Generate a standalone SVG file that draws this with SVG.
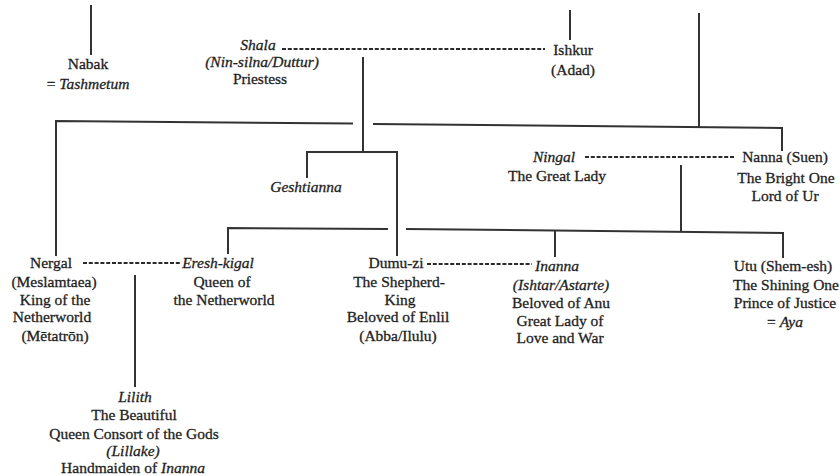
<svg xmlns="http://www.w3.org/2000/svg" width="840" height="476" viewBox="0 0 840 476">
<style>
  text { font-family: "Liberation Serif", "Times New Roman", serif; font-size: 15.5px; fill: #1e1e1e; stroke: #1e1e1e; stroke-width: 0.3; text-anchor: middle; }
  .i { font-style: italic; }
  .ln { fill: none; stroke: #333; stroke-width: 2; stroke-linecap: butt; }
  .ds { fill: none; stroke: #2a2a2a; stroke-width: 2.2; stroke-dasharray: 4 1.8; }
</style>
<rect x="0" y="0" width="840" height="476" fill="#ffffff"/>
<g id="connectors">
  <path class="ln" d="M91,5 L91,55"/>
  <path class="ln" d="M570,10 L570,40"/>
  <path class="ln" d="M699,13 L699,127"/>
  <path class="ds" d="M282,49 L545,49"/>
  <path class="ln" d="M363,57 L363,152"/>
  <path class="ln" d="M56,256 L56,121 L353,123.5"/>
  <path class="ln" d="M373,124 L782,128 L782,151"/>
  <path class="ln" d="M307,178 L307,152 L397,152 L397,256"/>
  <path class="ds" d="M585,157 L735,157"/>
  <path class="ln" d="M681,165 L681,232"/>
  <path class="ln" d="M228,254 L228,228 L388,229"/>
  <path class="ln" d="M406,229 L783,233 L783,258"/>
  <path class="ln" d="M555,230 L555,257"/>
  <path class="ds" d="M83,263 L180,263"/>
  <path class="ds" d="M427,264 L532,264"/>
  <path class="ln" d="M135,275 L135,387"/>
</g>
<g id="nabak">
  <text x="88" y="69">Nabak</text>
  <text x="88" y="89">= <tspan class="i">Tashmetum</tspan></text>
</g>
<g id="shala">
  <text x="258" y="50" class="i">Shala</text>
  <text x="262" y="67" class="i">(Nin-silna/Duttur)</text>
  <text x="260" y="84">Priestess</text>
</g>
<g id="ishkur">
  <text x="573" y="55">Ishkur</text>
  <text x="573" y="75">(Adad)</text>
</g>
<g id="geshtianna">
  <text x="306" y="192" class="i">Geshtianna</text>
</g>
<g id="ningal">
  <text x="554" y="162" class="i">Ningal</text>
  <text x="557" y="181">The Great Lady</text>
</g>
<g id="nanna">
  <text x="785" y="162">Nanna (Suen)</text>
  <text x="786" y="183">The Bright One</text>
  <text x="785" y="201">Lord of Ur</text>
</g>
<g id="nergal">
  <text x="51" y="268">Nergal</text>
  <text x="54" y="287">(Meslamtaea)</text>
  <text x="55" y="305">King of the</text>
  <text x="52" y="322">Netherworld</text>
  <text x="55" y="341">(Mētatrōn)</text>
</g>
<g id="ereshkigal">
  <text x="218" y="268" class="i">Eresh-kigal</text>
  <text x="222" y="287">Queen of</text>
  <text x="224" y="305">the Netherworld</text>
</g>
<g id="dumuzi">
  <text x="396" y="268">Dumu-zi</text>
  <text x="399" y="287">The Shepherd-</text>
  <text x="400" y="305">King</text>
  <text x="398" y="322">Beloved of Enlil</text>
  <text x="398" y="341">(Abba/Ilulu)</text>
</g>
<g id="inanna">
  <text x="557" y="271" class="i">Inanna</text>
  <text x="561" y="290" class="i">(Ishtar/Astarte)</text>
  <text x="561" y="308">Beloved of Anu</text>
  <text x="560" y="326">Great Lady of</text>
  <text x="560" y="343">Love and War</text>
</g>
<g id="utu">
  <text x="783" y="271">Utu (Shem-esh)</text>
  <text x="786" y="290">The Shining One</text>
  <text x="785" y="308">Prince of Justice</text>
  <text x="785" y="327">= <tspan class="i">Aya</tspan></text>
</g>
<g id="lilith">
  <text x="135" y="402" class="i">Lilith</text>
  <text x="134" y="420">The Beautiful</text>
  <text x="134" y="439">Queen Consort of the Gods</text>
  <text x="133" y="456" class="i">(Lillake)</text>
  <text x="133" y="473">Handmaiden of <tspan class="i">Inanna</tspan></text>
</g>
</svg>
